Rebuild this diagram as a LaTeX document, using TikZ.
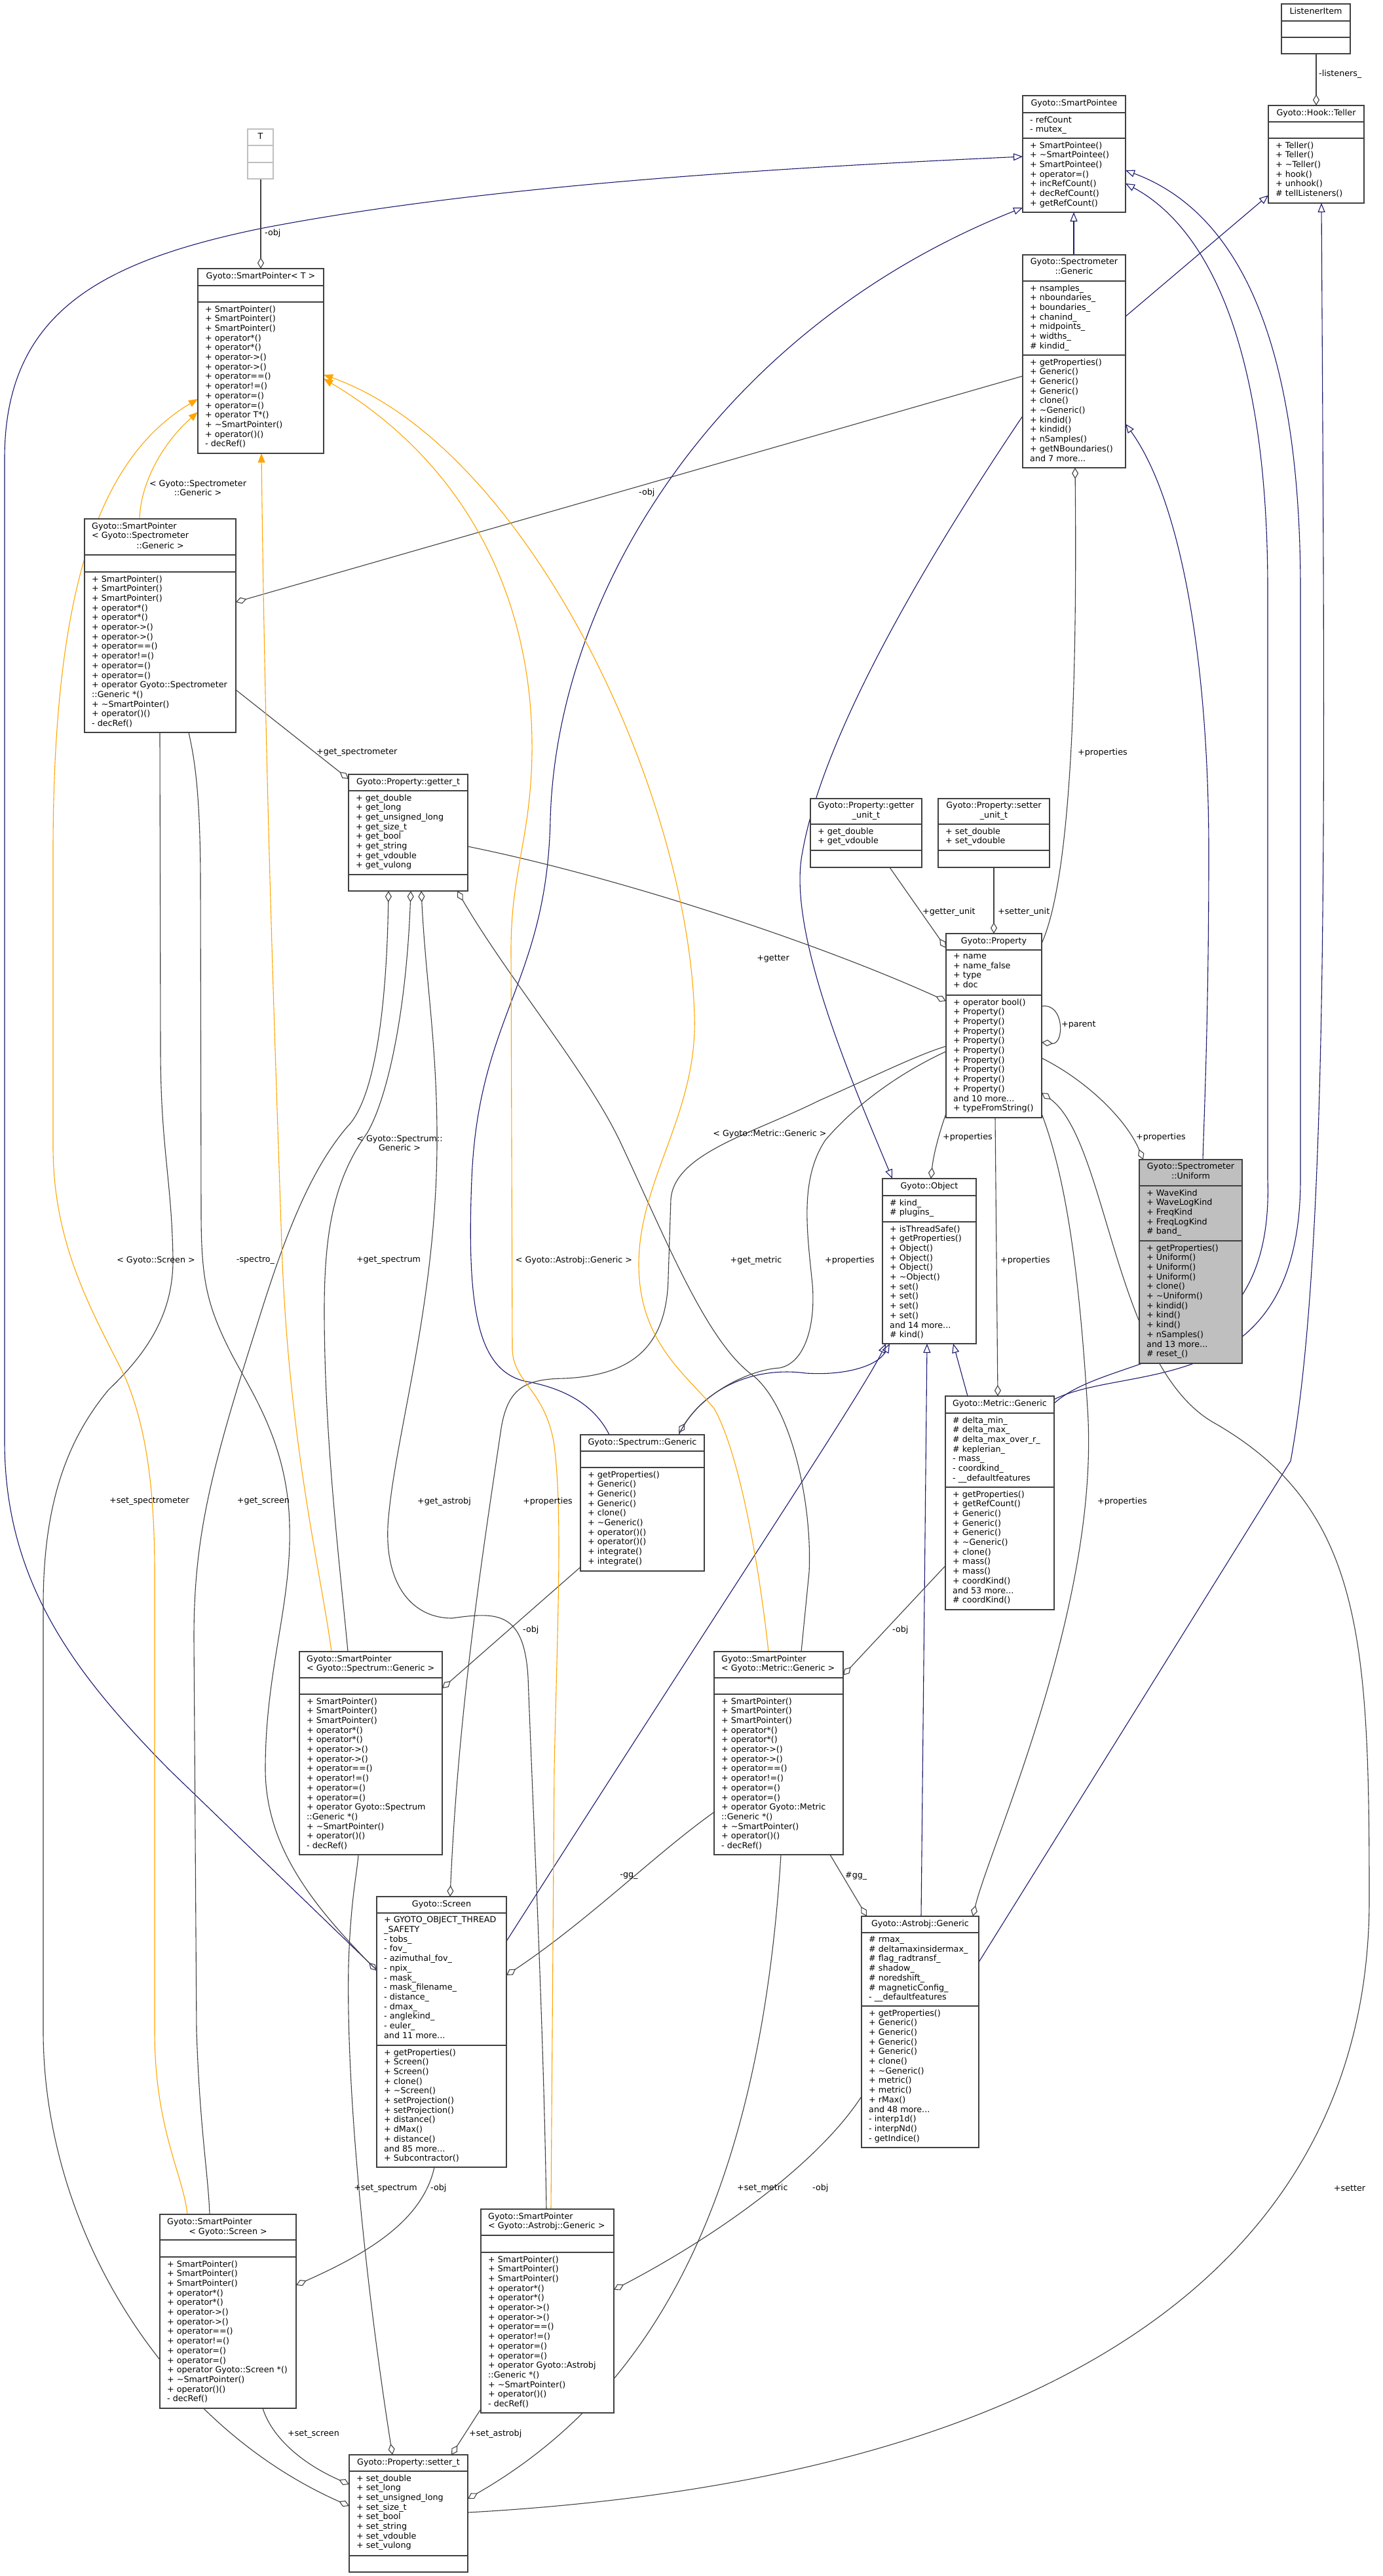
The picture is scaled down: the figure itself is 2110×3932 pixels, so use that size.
\documentclass[tikz,border=0pt]{standalone}
\usepackage{fontspec}
\setmainfont{DejaVu Sans}
\usetikzlibrary{arrows.meta,calc}
\definecolor{cblue}{HTML}{191970}
\definecolor{cgray}{HTML}{404040}
\definecolor{corange}{HTML}{FFA500}
\definecolor{cfill}{HTML}{BFBFBF}
\newcommand\fs{\fontsize{12.7pt}{14.7pt}\selectfont}
\newcommand\tld{\textasciitilde}
\pgfdeclarelayer{bg}
\pgfsetlayers{bg,main}
\tikzset{
 box/.style={draw=cgray, line width=1.5pt, inner sep=0pt, outer sep=0pt},
 sepline/.style={draw=cgray, line width=1.5pt},
 mem/.style={anchor=north west, align=left, inner sep=0pt, font=\fs, execute at begin node=\strut},
 ttl/.style={anchor=north, align=center, inner sep=0pt, font=\fs, execute at begin node=\strut},
 lbl/.style={inner sep=0pt, font=\fs},
 inh/.style={draw=cblue, line width=1.1pt, arrows={Triangle[open,length=14pt,width=11pt]-}},
 agg/.style={draw=cgray, line width=1.1pt, arrows={Diamond[open,length=17pt,width=10pt]-}},
 tpl/.style={draw=corange, line width=1.1pt, arrows={Triangle[length=14pt,width=11pt]-}},
}
\newcommand\umlbox[8][white]{%
  \node[box, fill=#1, anchor=north west, minimum width={#5-#3}, minimum height={#6-#4}] (#2) at (#3,#4) {};
  \draw[sepline] ([yshift={#4-#7}]#2.north west) -- ([yshift={#4-#7}]#2.north east);
  \draw[sepline] ([yshift={#4-#8}]#2.north west) -- ([yshift={#4-#8}]#2.north east);
}
\begin{document}
\begin{tikzpicture}[x=1pt,y=-1pt]
\useasboundingbox (0,0) rectangle (2110,3932);

% ---------------- boxes ----------------
\node[box, draw=cfill, fill=white, anchor=north west, minimum width=39, minimum height=76] (T) at (378,197) {};
\draw[draw=cfill, line width=1.5pt] ([yshift=-25]T.north west) -- ([yshift=-25]T.north east);
\draw[draw=cfill, line width=1.5pt] ([yshift=-51]T.north west) -- ([yshift=-51]T.north east);
\node[ttl] (Tt) at (397.5,202.2) {T};

\umlbox{SPT}{302}{410}{494}{692}{436}{461}
\node[ttl] (SPTt) at (398,415.2) {Gyoto::SmartPointer< T >};
\node[mem] (SPTm) at (313,466.2) {+ SmartPointer()\\+ SmartPointer()\\+ SmartPointer()\\+ operator*()\\+ operator*()\\+ operator->()\\+ operator->()\\+ operator==()\\+ operator!=()\\+ operator=()\\+ operator=()\\+ operator T*()\\+ \tld SmartPointer()\\+ operator()()\\- decRef()};

\umlbox{SPSpec}{129}{792}{360}{1118}{847}{873}
\node[mem] (SPSpect) at (140,797.2) {Gyoto::SmartPointer\\< Gyoto::Spectrometer};
\node[ttl] (SPSpect2) at (244.5,826.6) {::Generic >};
\node[mem] (SPSpecm) at (140,878.2) {+ SmartPointer()\\+ SmartPointer()\\+ SmartPointer()\\+ operator*()\\+ operator*()\\+ operator->()\\+ operator->()\\+ operator==()\\+ operator!=()\\+ operator=()\\+ operator=()\\+ operator Gyoto::Spectrometer\\::Generic *()\\+ \tld SmartPointer()\\+ operator()()\\- decRef()};

\umlbox{SPee}{1561}{146}{1718}{324}{172}{211}
\node[ttl] (SPeet) at (1639.5,151.2) {Gyoto::SmartPointee};
\node[mem] (SPeea) at (1572,177.2) {- refCount\\- mutex\_};
\node[mem] (SPeem) at (1572,216.2) {+ SmartPointee()\\+ \tld SmartPointee()\\+ SmartPointee()\\+ operator=()\\+ incRefCount()\\+ decRefCount()\\+ getRefCount()};

\umlbox{LI}{1956}{6}{2061}{82}{32}{57}
\node[ttl] (LIt) at (2008.5,11.2) {ListenerItem};

\umlbox{Teller}{1936}{161}{2082}{310}{186}{211}
\node[ttl] (Tellert) at (2009,166.2) {Gyoto::Hook::Teller};
\node[mem] (Tellerm) at (1947,216.2) {+ Teller()\\+ Teller()\\+ \tld Teller()\\+ hook()\\+ unhook()\\\# tellListeners()};

\umlbox{SpecG}{1561}{389}{1718}{714}{429}{542}
\node[ttl] (SpecGt) at (1639.5,394.2) {Gyoto::Spectrometer\\::Generic};
\node[mem] (SpecGa) at (1572,434.2) {+ nsamples\_\\+ nboundaries\_\\+ boundaries\_\\+ chanind\_\\+ midpoints\_\\+ widths\_\\\# kindid\_};
\node[mem] (SpecGm) at (1572,547.2) {+ getProperties()\\+ Generic()\\+ Generic()\\+ Generic()\\+ clone()\\+ \tld Generic()\\+ kindid()\\+ kindid()\\+ nSamples()\\+ getNBoundaries()\\and 7 more...};

\umlbox{getter}{532}{1182}{714}{1360}{1207}{1335}
\node[ttl] (gettert) at (623,1187.2) {Gyoto::Property::getter\_t};
\node[mem] (gettera) at (543,1212.2) {+ get\_double\\+ get\_long\\+ get\_unsigned\_long\\+ get\_size\_t\\+ get\_bool\\+ get\_string\\+ get\_vdouble\\+ get\_vulong};

\umlbox{gunit}{1237}{1219}{1407}{1324}{1258}{1298}
\node[ttl] (gunitt) at (1322,1224.2) {Gyoto::Property::getter\\\_unit\_t};
\node[mem] (gunita) at (1248,1263.2) {+ get\_double\\+ get\_vdouble};

\umlbox{sunit}{1432}{1219}{1602}{1324}{1258}{1298}
\node[ttl] (sunitt) at (1517,1224.2) {Gyoto::Property::setter\\\_unit\_t};
\node[mem] (sunita) at (1443,1263.2) {+ set\_double\\+ set\_vdouble};

\umlbox{Prop}{1444}{1425}{1590}{1706}{1450}{1519}
\node[ttl] (Propt) at (1517,1430.2) {Gyoto::Property};
\node[mem] (Propa) at (1455,1455.2) {+ name\\+ name\_false\\+ type\\+ doc};
\node[mem] (Propm) at (1455,1524.2) {+ operator bool()\\+ Property()\\+ Property()\\+ Property()\\+ Property()\\+ Property()\\+ Property()\\+ Property()\\+ Property()\\+ Property()\\and 10 more...\\+ typeFromString()};

\umlbox[cfill]{Unif}{1739}{1770}{1896}{2081}{1810}{1894}
\node[ttl] (Unift) at (1817.5,1775.2) {Gyoto::Spectrometer\\::Uniform};
\node[mem] (Unifa) at (1750,1815.2) {+ WaveKind\\+ WaveLogKind\\+ FreqKind\\+ FreqLogKind\\\# band\_};
\node[mem] (Unifm) at (1750,1899.2) {+ getProperties()\\+ Uniform()\\+ Uniform()\\+ Uniform()\\+ clone()\\+ \tld Uniform()\\+ kindid()\\+ kind()\\+ kind()\\+ nSamples()\\and 13 more...\\\# reset\_()};

\umlbox{Obj}{1347}{1799}{1490}{2051}{1825}{1865}
\node[ttl] (Objt) at (1418.5,1804.2) {Gyoto::Object};
\node[mem] (Obja) at (1358,1830.2) {\# kind\_\\\# plugins\_};
\node[mem] (Objm) at (1358,1870.2) {+ isThreadSafe()\\+ getProperties()\\+ Object()\\+ Object()\\+ Object()\\+ \tld Object()\\+ set()\\+ set()\\+ set()\\+ set()\\and 14 more...\\\# kind()};

\umlbox{MetG}{1443}{2131}{1609}{2457}{2157}{2270}
\node[ttl] (MetGt) at (1526,2136.2) {Gyoto::Metric::Generic};
\node[mem] (MetGa) at (1454,2162.2) {\# delta\_min\_\\\# delta\_max\_\\\# delta\_max\_over\_r\_\\\# keplerian\_\\- mass\_\\- coordkind\_\\- \_\_defaultfeatures};
\node[mem] (MetGm) at (1454,2275.2) {+ getProperties()\\+ getRefCount()\\+ Generic()\\+ Generic()\\+ Generic()\\+ \tld Generic()\\+ clone()\\+ mass()\\+ mass()\\+ coordKind()\\and 53 more...\\\# coordKind()};

\umlbox{SpecmG}{886}{2190}{1075}{2398}{2215}{2240}
\node[ttl] (SpecmGt) at (980.5,2195.2) {Gyoto::Spectrum::Generic};
\node[mem] (SpecmGm) at (897,2245.2) {+ getProperties()\\+ Generic()\\+ Generic()\\+ Generic()\\+ clone()\\+ \tld Generic()\\+ operator()()\\+ operator()()\\+ integrate()\\+ integrate()};

\umlbox{SPM}{1090}{2521}{1287}{2831}{2561}{2586}
\node[mem] (SPMt) at (1101,2526.2) {Gyoto::SmartPointer\\< Gyoto::Metric::Generic >};
\node[mem] (SPMm) at (1101,2591.2) {+ SmartPointer()\\+ SmartPointer()\\+ SmartPointer()\\+ operator*()\\+ operator*()\\+ operator->()\\+ operator->()\\+ operator==()\\+ operator!=()\\+ operator=()\\+ operator=()\\+ operator Gyoto::Metric\\::Generic *()\\+ \tld SmartPointer()\\+ operator()()\\- decRef()};

\umlbox{SPS}{457}{2521}{675}{2831}{2561}{2586}
\node[mem] (SPSt) at (468,2526.2) {Gyoto::SmartPointer\\< Gyoto::Spectrum::Generic >};
\node[mem] (SPSm) at (468,2591.2) {+ SmartPointer()\\+ SmartPointer()\\+ SmartPointer()\\+ operator*()\\+ operator*()\\+ operator->()\\+ operator->()\\+ operator==()\\+ operator!=()\\+ operator=()\\+ operator=()\\+ operator Gyoto::Spectrum\\::Generic *()\\+ \tld SmartPointer()\\+ operator()()\\- decRef()};

\umlbox{Astro}{1315}{2925}{1494}{3278}{2950}{3062}
\node[ttl] (Astrot) at (1404.5,2930.2) {Gyoto::Astrobj::Generic};
\node[mem] (Astroa) at (1326,2955.2) {\# rmax\_\\\# deltamaxinsidermax\_\\\# flag\_radtransf\_\\\# shadow\_\\\# noredshift\_\\\# magneticConfig\_\\- \_\_defaultfeatures};
\node[mem] (Astrom) at (1326,3067.2) {+ getProperties()\\+ Generic()\\+ Generic()\\+ Generic()\\+ Generic()\\+ clone()\\+ \tld Generic()\\+ metric()\\+ metric()\\+ rMax()\\and 48 more...\\- interp1d()\\- interpNd()\\- getIndice()};

\umlbox{Screen}{575}{2895}{773}{3308}{2920}{3122}
\node[ttl] (Screent) at (674,2900.2) {Gyoto::Screen};
\node[mem] (Screena) at (586,2925.2) {+ GYOTO\_OBJECT\_THREAD\\\_SAFETY\\- tobs\_\\- fov\_\\- azimuthal\_fov\_\\- npix\_\\- mask\_\\- mask\_filename\_\\- distance\_\\- dmax\_\\- anglekind\_\\- euler\_\\and 11 more...};
\node[mem] (Screenm) at (586,3127.2) {+ getProperties()\\+ Screen()\\+ Screen()\\+ clone()\\+ \tld Screen()\\+ setProjection()\\+ setProjection()\\+ distance()\\+ dMax()\\+ distance()\\and 85 more...\\+ Subcontractor()};

\umlbox{SPScr}{244}{3380}{452}{3676}{3419}{3445}
\node[mem] (SPScrt) at (255,3385.2) {Gyoto::SmartPointer};
\node[ttl] (SPScrt2) at (348,3399.9) {< Gyoto::Screen >};
\node[mem] (SPScrm) at (255,3450.2) {+ SmartPointer()\\+ SmartPointer()\\+ SmartPointer()\\+ operator*()\\+ operator*()\\+ operator->()\\+ operator->()\\+ operator==()\\+ operator!=()\\+ operator=()\\+ operator=()\\+ operator Gyoto::Screen *()\\+ \tld SmartPointer()\\+ operator()()\\- decRef()};

\umlbox{SPA}{734}{3372}{937}{3683}{3412}{3438}
\node[mem] (SPAt) at (745,3377.2) {Gyoto::SmartPointer\\< Gyoto::Astrobj::Generic >};
\node[mem] (SPAm) at (745,3443.2) {+ SmartPointer()\\+ SmartPointer()\\+ SmartPointer()\\+ operator*()\\+ operator*()\\+ operator->()\\+ operator->()\\+ operator==()\\+ operator!=()\\+ operator=()\\+ operator=()\\+ operator Gyoto::Astrobj\\::Generic *()\\+ \tld SmartPointer()\\+ operator()()\\- decRef()};

\umlbox{setter}{533}{3747}{714}{3926}{3772}{3901}
\node[ttl] (settert) at (623.5,3752.2) {Gyoto::Property::setter\_t};
\node[mem] (settera) at (544,3777.2) {+ set\_double\\+ set\_long\\+ set\_unsigned\_long\\+ set\_size\_t\\+ set\_bool\\+ set\_string\\+ set\_vdouble\\+ set\_vulong};

% ---------------- edges ----------------
\begin{pgfonlayer}{bg}
\fill[white] (0,0) rectangle (2110,3932);
% inheritance
\draw[inh] ([shift={(78,178)}]SPee.north west) -- ([shift={(78,0)}]SpecG.north west);
\draw[inh] ([shift={(0,137)}]Teller.north west) -- ([shift={(157,94)}]SpecG.north west);
\draw[inh] ([shift={(15,0)}]Obj.north west) .. controls (1300,1650) and (1200,1420) .. (1225,1300) .. controls (1260,1100) and (1450,800) .. ([shift={(0,246)}]SpecG.north west);
\draw[inh] ([shift={(157,258)}]SpecG.north west) .. controls (1800,760) and (1845,1000) .. (1845,1300) .. controls (1845,1550) and (1838,1700) .. ([shift={(97,0)}]Unif.north west);
\draw[inh] ([shift={(0,93)}]SPee.north west) .. controls (1100,260) and (700,290) .. (397,349) .. controls (150,400) and (7,480) .. (7,700) -- (7,2200) .. controls (7,2420) and (120,2560) .. (257,2700) -- ([shift={(0,112)}]Screen.north west);
\draw[inh] ([shift={(5,252)}]Obj.north west) .. controls (1320,2120) and (1100,2450) .. ([shift={(198,68)}]Screen.north west);
\draw[inh] ([shift={(0,171)}]SPee.north west) .. controls (1100,500) and (850,900) .. (840,1250) .. controls (835,1500) and (730,1550) .. (720,1800) .. controls (712,2000) and (730,2090) .. (800,2108) .. controls (870,2120) and (910,2150) .. ([shift={(44,0)}]SpecmG.north west);
\draw[inh] ([shift={(11,252)}]Obj.north west) .. controls (1340,2085) and (1290,2100) .. (1230,2096) .. controls (1150,2085) and (1070,2120) .. ([shift={(150,0)}]SpecmG.north west);
\draw[inh] ([shift={(157,114)}]SPee.north west) .. controls (1880,320) and (1985,500) .. (1985,900) -- (1985,1800) .. controls (1985,2140) and (1720,2080) .. ([shift={(166,5)}]MetG.north west);
\draw[inh] ([shift={(157,134)}]SPee.north west) .. controls (1830,340) and (1935,500) .. (1935,900) -- (1935,1800) .. controls (1945,2100) and (1700,2060) .. ([shift={(166,11)}]MetG.north west);
\draw[inh] ([shift={(81,149)}]Teller.north west) .. controls (2022,1200) and (2030,1900) .. (1970,2230) -- ([shift={(179,70)}]Astro.north west);
\draw[inh] ([shift={(68,252)}]Obj.north west) -- ([shift={(91,0)}]Astro.north west);
\draw[inh] ([shift={(108,252)}]Obj.north west) -- ([shift={(34,0)}]MetG.north west);
% aggregation
\draw[agg] ([shift={(96,0)}]SPT.north west) -- ([shift={(20,76)}]T.north west);
\draw[agg] ([shift={(73,0)}]Teller.north west) -- ([shift={(53,76)}]LI.north west);
\draw[agg] ([shift={(231,127)}]SPSpec.north west) -- ([shift={(0,185)}]SpecG.north west);
\draw[agg] ([shift={(0,7)}]getter.north west) -- ([shift={(231,261)}]SPSpec.north west);
\draw[agg] ([shift={(0,78)}]setter.north west) .. controls (250,3700) and (66,3400) .. (66,3100) -- (66,2450) .. controls (66,2300) and (100,2200) .. (166,2121) .. controls (230,2060) and (265,2000) .. (264,1920) .. controls (262,1800) and (245,1750) .. (245,1600) -- ([shift={(115,326)}]SPSpec.north west);
\draw[agg] ([shift={(0,113)}]Screen.north west) .. controls (480,2910) and (405,2820) .. (405,2700) .. controls (405,2550) and (445,2450) .. (442,2330) .. controls (440,2200) and (380,2120) .. (350,2060) .. controls (315,1990) and (307,1950) .. (307,1850) -- (306,1350) .. controls (306,1200) and (295,1150) .. ([shift={(159,326)}]SPSpec.north west);
\draw[agg] ([shift={(80,325)}]SpecG.north west) .. controls (1645,1100) and (1630,1350) .. ([shift={(146,15)}]Prop.north west);
\draw[agg] ([shift={(0,22)}]Prop.north west) -- ([shift={(121,105)}]gunit.north west);
\draw[agg] ([shift={(73,0)}]Prop.north west) -- ([shift={(85,105)}]sunit.north west);
\draw[agg] ([shift={(0,103)}]Prop.north west) .. controls (1250,1440) and (950,1340) .. ([shift={(182,110)}]getter.north west);
\draw[agg] ([shift={(146,166)}]Prop.north west) .. controls (1625,1595) and (1625,1530) .. ([shift={(146,111)}]Prop.north west);
\draw[agg] ([shift={(74,0)}]Obj.north west) .. controls (1425,1760) and (1435,1725) .. ([shift={(0,275)}]Prop.north west);
\draw[agg] ([shift={(6,0)}]Unif.north west) .. controls (1720,1710) and (1660,1650) .. ([shift={(146,190)}]Prop.north west);
\draw[agg] ([shift={(80,0)}]MetG.north west) -- ([shift={(75,281)}]Prop.north west);
\draw[agg] ([shift={(170,0)}]Astro.north west) .. controls (1510,2820) and (1680,2450) .. (1660,2150) .. controls (1645,1900) and (1620,1780) .. ([shift={(146,275)}]Prop.north west);
\draw[agg] ([shift={(112,0)}]Screen.north west) .. controls (700,2600) and (740,2350) .. (765,2180) .. controls (775,2120) and (800,2105) .. (860,2104) .. controls (960,2100) and (1018,2060) .. (1020,1950) -- (1024,1830) .. controls (1030,1760) and (1150,1730) .. (1250,1680) .. controls (1330,1645) and (1400,1610) .. ([shift={(0,172)}]Prop.north west);
\draw[agg] ([shift={(150,-3)}]SpecmG.north west) .. controls (1080,2120) and (1150,2090) .. (1190,2088) .. controls (1230,2080) and (1245,2020) .. (1240,1960) .. controls (1232,1880) and (1220,1800) .. (1260,1740) .. controls (1320,1670) and (1400,1625) .. ([shift={(0,180)}]Prop.north west);
\draw[agg] ([shift={(218,56)}]SPS.north west) -- ([shift={(0,202)}]SpecmG.north west);
\draw[agg] ([shift={(197,36)}]SPM.north west) -- ([shift={(0,259)}]MetG.north west);
\draw[agg] ([shift={(8,0)}]Astro.north west) -- ([shift={(177,310)}]SPM.north west);
\draw[agg] ([shift={(198,120)}]Screen.north west) .. controls (900,2930) and (1000,2830) .. ([shift={(0,245)}]SPM.north west);
\draw[agg] ([shift={(208,108)}]SPScr.north west) .. controls (560,3440) and (645,3390) .. ([shift={(88,413)}]Screen.north west);
\draw[agg] ([shift={(203,123)}]SPA.north west) .. controls (1100,3410) and (1250,3300) .. ([shift={(0,275)}]Astro.north west);
\draw[agg] ([shift={(66,0)}]setter.north west) .. controls (560,3500) and (528,3200) .. (532,3000) .. controls (535,2900) and (545,2860) .. ([shift={(90,310)}]SPS.north west);
\draw[agg] ([shift={(156,0)}]setter.north west) -- ([shift={(0,305)}]SPA.north west);
\draw[agg] ([shift={(0,45)}]setter.north west) .. controls (460,3760) and (415,3720) .. ([shift={(157,296)}]SPScr.north west);
\draw[agg] ([shift={(181,67)}]setter.north west) .. controls (1000,3650) and (1160,3350) .. ([shift={(102,310)}]SPM.north west);
\draw[agg] ([shift={(146,243)}]Prop.north west) .. controls (1690,1740) and (1700,2080) .. (1850,2170) .. controls (2080,2300) and (2090,2500) .. (2090,2900) .. controls (2090,3400) and (1700,3780) .. ([shift={(181,88)}]setter.north west);
\draw[agg] ([shift={(61,178)}]getter.north west) .. controls (590,1550) and (570,1680) .. (530,1720) .. controls (470,1790) and (430,1900) .. (390,2030) .. controls (320,2250) and (296,2350) .. (296,2500) -- (300,3100) .. controls (305,3250) and (318,3320) .. ([shift={(76,0)}]SPScr.north west);
\draw[agg] ([shift={(95,178)}]getter.north west) .. controls (620,1550) and (590,1680) .. (560,1730) .. controls (510,1800) and (495,1880) .. (495,2000) .. controls (495,2200) and (520,2400) .. ([shift={(74,0)}]SPS.north west);
\draw[agg] ([shift={(111,178)}]getter.north west) .. controls (650,1500) and (668,1600) .. (667,1750) .. controls (665,2000) and (600,2200) .. (592,2330) .. controls (588,2420) and (630,2470) .. (690,2470) .. controls (760,2460) and (800,2460) .. (806,2560) .. controls (815,2800) and (830,3100) .. ([shift={(100,0)}]SPA.north west);
\draw[agg] ([shift={(166,178)}]getter.north west) .. controls (780,1500) and (900,1640) .. (950,1750) .. controls (1020,1900) and (1080,2050) .. (1150,2100) .. controls (1210,2150) and (1240,2300) .. (1235,2400) -- ([shift={(133,0)}]SPM.north west);
% template instances
\draw[tpl] ([shift={(0,219)}]SPT.north west) .. controls (255,670) and (215,730) .. ([shift={(84,0)}]SPSpec.north west);
\draw[tpl] ([shift={(0,199)}]SPT.north west) .. controls (150,700) and (81,900) .. (81,1300) -- (81,1750) .. controls (81,1900) and (140,2000) .. (190,2100) .. controls (225,2180) and (236,2280) .. (236,2400) -- (236,3100) .. controls (236,3250) and (280,3320) .. ([shift={(42,0)}]SPScr.north west);
\draw[tpl] ([shift={(97,282)}]SPT.north west) .. controls (405,1200) and (420,1600) .. (430,1900) .. controls (440,2200) and (490,2400) .. ([shift={(49,0)}]SPS.north west);
\draw[tpl] ([shift={(192,162)}]SPT.north west) .. controls (800,680) and (1050,1200) .. (1060,1550) .. controls (1065,1700) and (975,1800) .. (975,1930) .. controls (975,2050) and (1050,2100) .. (1090,2150) .. controls (1130,2220) and (1160,2400) .. ([shift={(83,0)}]SPM.north west);
\draw[tpl] ([shift={(192,168)}]SPT.north west) .. controls (700,700) and (815,900) .. (812,1150) .. controls (810,1280) and (780,1330) .. (780,1450) -- (782,2060) .. controls (784,2110) and (830,2120) .. (845,2200) .. controls (860,2300) and (850,2500) .. (846,2700) -- ([shift={(107,0)}]SPA.north west);
\end{pgfonlayer}

% ---------------- labels ----------------
\node[lbl, anchor=west] (l1) at (404,356) {-obj};
\node[lbl, anchor=west] (l2) at (2013,113) {-listeners\_};
\node[lbl, anchor=west] (l3) at (975,752) {-obj};
\node[lbl, anchor=west] (l4) at (483,1149) {+get\_spectrometer};
\node[lbl, anchor=west] (l5) at (1645,1149) {+properties};
\node[lbl, anchor=west] (l6) at (1408,1392) {+getter\_unit};
\node[lbl, anchor=west] (l7) at (1523,1392) {+setter\_unit};
\node[lbl] (l8) at (1180,1463) {+getter};
\node[lbl, anchor=west] (l9) at (1620,1564) {+parent};
\node[lbl, anchor=west] (l10) at (1439,1736) {+properties};
\node[lbl, anchor=west] (l11) at (1734,1736) {+properties};
\node[lbl, anchor=west] (l12) at (1527,1924) {+properties};
\node[lbl, anchor=west] (l13) at (1362,2488) {-obj};
\node[lbl, anchor=west] (l14) at (1290,2863) {\#gg\_};
\node[lbl, anchor=west] (l15) at (657,3340) {-obj};
\node[lbl, anchor=east] (l16) at (637,3340) {+set\_spectrum};
\node[lbl, anchor=west] (l17) at (439,3715) {+set\_screen};
\node[lbl, anchor=west] (l18) at (716,3715) {+set\_astrobj};
\node[lbl, align=center] (l19) at (302,745) {< Gyoto::Spectrometer\\::Generic >};
\node[lbl, align=center] (l20) at (610,1745) {< Gyoto::Spectrum::\\Generic >};
\node[lbl] (l21) at (1175,1731) {< Gyoto::Metric::Generic >};
\node[lbl] (l22) at (238,1924) {< Gyoto::Screen >};
\node[lbl] (l23) at (876,1924) {< Gyoto::Astrobj::Generic >};
\node[lbl] (l24) at (390,1924) {-spectro\_};
\node[lbl] (l25) at (593,1924) {+get\_spectrum};
\node[lbl] (l26) at (836,2292) {+properties};
\node[lbl] (l27) at (1154,1924) {+get\_metric};
\node[lbl] (l28) at (228,2292) {+set\_spectrometer};
\node[lbl] (l29) at (402,2292) {+get\_screen};
\node[lbl] (l30) at (678,2292) {+get\_astrobj};
\node[lbl, anchor=west] (l31) at (1259,1924) {+properties};
\node[lbl, anchor=west] (l32) at (1675,2292) {+properties};
\node[lbl] (l33) at (960,2863) {-gg\_};
\node[lbl, anchor=west] (l34) at (1125,3340) {+set\_metric};
\node[lbl, anchor=west] (l35) at (1240,3340) {-obj};
\node[lbl] (l36) at (2060,3340) {+setter};
\node[lbl, anchor=west] (l37) at (798,2488) {-obj};
\end{tikzpicture}
\end{document}
